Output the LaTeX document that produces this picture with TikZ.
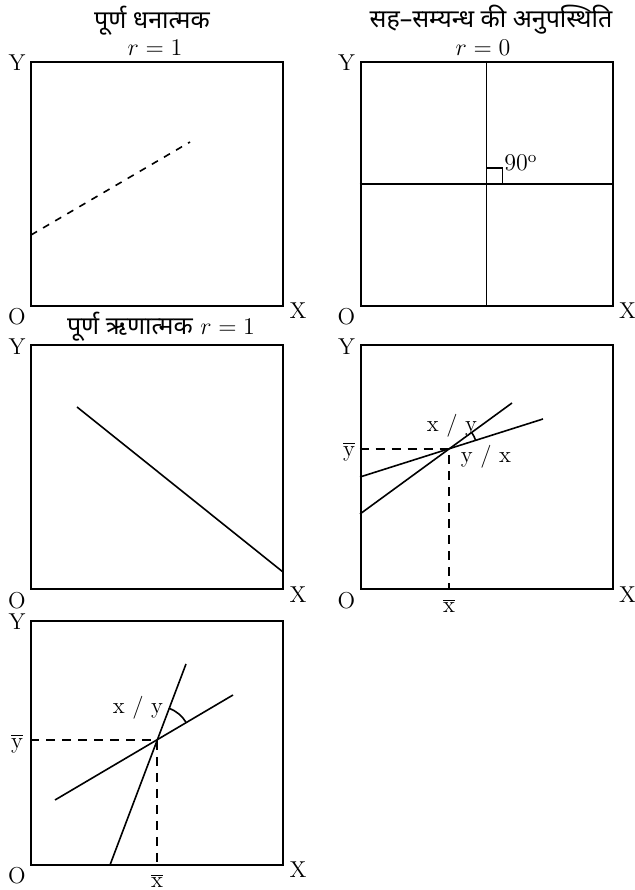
\documentclass[tikz,border=0pt]{standalone}
\usepackage{fontspec}
\newfontfamily\hindi[Script=Devanagari]{Noto Sans}
\usetikzlibrary{positioning,calc}

\begin{document}
\begin{tikzpicture}[
    x=0.5pt, y=0.5pt,
    panel/.style={rectangle, draw, line width=1pt, minimum width=126pt, minimum height=122pt, inner sep=0pt},
    axis/.style={inner sep=0pt, font=\fontsize{11.5}{13}\selectfont},
    title/.style={inner sep=0pt, font=\hindi\fontsize{12.5}{14}\selectfont},
    graph/.style={line width=0.8pt},
    guide/.style={line width=0.8pt, dash pattern=on 4.5pt off 3.5pt}
]
    \useasboundingbox (0,0) rectangle (634,890);

    % the five boxes
    \node[panel] (pos) at (157,706) {};
    \node[panel] (none) at (486.5,706) {};
    \node[panel] (neg) at (157,422.5) {};
    \node[panel] (close) at (486.5,422.5) {};
    \node[panel] (wide) at (157,147) {};

    \foreach \p in {pos,none,neg,close,wide}{
        \node[axis] (\p-y) at ([shift={(-13,-2)}]\p.north west) {Y};
        \node[axis] (\p-o) at ([shift={(-13,-10)}]\p.south west) {O};
        \node[axis] (\p-x) at ([shift={(14,-4)}]\p.south east) {X};
    }

    % perfect positive
    \node[title] (pos-t) at (152,869) {पूर्ण धनात्मक};
    \node[axis] (pos-r) at (155,842) {$r = 1$};
    \coordinate (pos-a) at (31,655);
    \coordinate (pos-b) at (190,748);
    \draw[graph, dash pattern=on 3.5pt off 3.5pt] (pos-a) -- (pos-b);

    % no correlation
    \node[title] (none-t) at (491,870) {सह–सम्यन्ध की अनुपस्थिति};
    \node[axis] (none-r) at (483,842) {$r = 0$};
    \draw[graph] (none.north) -- (none.south);
    \draw[graph] (none.west) -- (none.east);
    \draw[line width=0.7pt] (none.center) rectangle ++(16,16);
    \node[axis] (none-deg) at (521,727) {$90^{\mathrm{o}}$};

    % perfect negative
    \node[axis] (neg-t) at (161,563) {{\hindi\fontsize{12.5}{14}\selectfont पूर्ण ऋणात्मक}\ $r = 1$};
    \coordinate (neg-a) at (77,483);
    \coordinate (neg-b) at (283,318);
    \draw[graph] (neg-a) -- (neg-b);

    % lines close together
    \coordinate (close-m) at (449,441);
    \coordinate (close-s1) at (360,376);
    \coordinate (close-s2) at (512,487);
    \coordinate (close-f1) at (360,413);
    \coordinate (close-f2) at (543,471);
    \draw[graph] (close-s1) -- (close-s2);
    \draw[graph] (close-f1) -- (close-f2);
    \draw[guide] (close.west |- close-m) -- (close-m) -- (close-m |- close.south);
    \draw[graph] ([shift={(17.5:14pt)}]close-m) arc[start angle=17.5, end angle=36.1, radius=14pt];
    \node[axis] (close-yb) at (349,438) {$\overline{\mathrm{y}}$};
    \node[axis] (close-xb) at (449,284) {$\overline{\mathrm{x}}$};
    \node[axis] (close-xy) at (452,464) {x / y};
    \node[axis] (close-yx) at (486,433) {y / x};

    % lines far apart
    \coordinate (wide-m) at (157,150);
    \coordinate (wide-s1) at (110,25);
    \coordinate (wide-s2) at (186,226);
    \coordinate (wide-f1) at (55,90);
    \coordinate (wide-f2) at (233,195);
    \draw[graph] (wide-s1) -- (wide-s2);
    \draw[graph] (wide-f1) -- (wide-f2);
    \draw[guide] (wide.west |- wide-m) -- (wide-m) -- (wide-m |- wide.south);
    \draw[graph] ([shift={(30.5:17pt)}]wide-m) arc[start angle=30.5, end angle=69.4, radius=17pt];
    \node[axis] (wide-yb) at (17,146) {$\overline{\mathrm{y}}$};
    \node[axis] (wide-xb) at (157,9) {$\overline{\mathrm{x}}$};
    \node[axis] (wide-xy) at (138,182) {x / y};
\end{tikzpicture}
\end{document}
